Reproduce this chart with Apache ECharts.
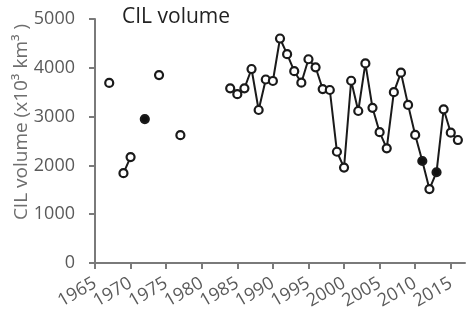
<!DOCTYPE html>
<html>
<head>
<meta charset="utf-8">
<script src="https://cdn.jsdelivr.net/npm/echarts@6/dist/echarts.min.js"></script>
<style>
  html, body { margin: 0; padding: 0; background: #fff; }
  #chart { width: 466px; height: 320px; }
</style>
</head>
<body>
<div id="chart"></div>
<script>
// Survey years and CIL volume (x10^3 km^3); null marks a year with no survey
const years = [
  1967, 1968, 1969, 1970, 1971, 1972, 1973, 1974, 1975, 1976, 1977,
  1978, 1979, 1980, 1981, 1982, 1983, 1984, 1985, 1986, 1987, 1988,
  1989, 1990, 1991, 1992, 1993, 1994, 1995, 1996, 1997, 1998, 1999,
  2000, 2001, 2002, 2003, 2004, 2005, 2006, 2007, 2008, 2009, 2010,
  2011, 2012, 2013, 2014, 2015, 2016
];
const volumes = [
  3690, null, 1840, 2170, null, 2950, null, 3850, null, null, 2620,
  null, null, null, null, null, null, 3580, 3460, 3580, 3975, 3135,
  3760, 3730, 4600, 4280, 3930, 3695, 4175, 4010, 3565, 3545, 2280,
  1955, 3735, 3115, 4090, 3180, 2680, 2350, 3500, 3900, 3240, 2625,
  2090, 1515, 1860, 3150, 2670, 2520
];
// Years drawn with a filled marker
const filledYears = [1972, 2011, 2013];
// Axis tick labels
const xTicks = [1965, 1970, 1975, 1980, 1985, 1990, 1995, 2000, 2005, 2010, 2015];
const yTicks = [0, 1000, 2000, 3000, 4000, 5000];

const FONT = '"Open Sans", sans-serif';
const AXIS_COLOR = '#7a7a7a';
const LABEL_COLOR = '#5a5a5a';

// Rotated year labels sit close together, so they are split over two
// stacked axes (alternate ticks each) to keep every one of them visible.
const xTicksA = xTicks.filter((_, i) => i % 2 === 0);
const xTicksB = xTicks.filter((_, i) => i % 2 === 1);

const seriesData = years.map((y, i) => {
  const v = volumes[i];
  if (v === null) return [y, null];
  if (filledYears.includes(y)) {
    return { value: [y, v], itemStyle: { color: '#111' } };
  }
  return [y, v];
});

const xLabel = values => ({
  customValues: values,
  showMinLabel: true,
  showMaxLabel: true,
  hideOverlap: false,
  rotate: 30,
  margin: 19,
  color: LABEL_COLOR,
  fontFamily: FONT,
  fontSize: 18,
  formatter: v => String(v)
});

const chart = echarts.init(document.getElementById('chart'), null, { renderer: 'canvas' });
chart.setOption({
  animation: false,
  backgroundColor: '#fff',
  grid: { left: 95, right: 1, top: 19, bottom: 57, containLabel: false },
  xAxis: [
    {
      type: 'value',
      position: 'bottom',
      min: 1965,
      max: 2017,
      interval: 5,
      axisLine: { show: true, onZero: false, lineStyle: { color: AXIS_COLOR, width: 2 } },
      axisTick: { show: true, length: 6, customValues: xTicks, lineStyle: { color: AXIS_COLOR, width: 2 } },
      axisLabel: xLabel(xTicksA),
      splitLine: { show: false }
    },
    {
      type: 'value',
      position: 'bottom',
      offset: 0,
      min: 1965,
      max: 2017,
      interval: 5,
      axisLine: { show: false, onZero: false },
      axisTick: { show: false },
      axisLabel: xLabel(xTicksB),
      splitLine: { show: false }
    }
  ],
  yAxis: {
    type: 'value',
    min: yTicks[0],
    max: yTicks[yTicks.length - 1],
    interval: 1000,
    axisLine: { show: true, lineStyle: { color: AXIS_COLOR, width: 2 } },
    axisTick: { show: true, length: 6, lineStyle: { color: AXIS_COLOR, width: 2 } },
    axisLabel: {
      showMinLabel: true,
      showMaxLabel: true,
      margin: 20,
      color: LABEL_COLOR,
      fontFamily: FONT,
      fontSize: 18,
      formatter: v => String(v)
    },
    splitLine: { show: false }
  },
  graphic: [
    {
      type: 'text',
      left: 122,
      top: 7,
      style: {
        text: 'CIL volume',
        fill: '#222',
        font: '21px ' + FONT
      }
    },
    {
      type: 'text',
      x: 22,
      y: 122,
      rotation: Math.PI / 2,
      style: {
        text: 'CIL volume (x10³ km³ )',
        fill: '#6e6e6e',
        font: '19px ' + FONT,
        textAlign: 'center',
        textVerticalAlign: 'middle'
      }
    }
  ],
  series: [
    {
      type: 'line',
      xAxisIndex: 0,
      data: seriesData,
      connectNulls: false,
      symbol: 'circle',
      symbolSize: 8,
      showAllSymbol: true,
      lineStyle: { color: '#1a1a1a', width: 2 },
      itemStyle: { color: '#fff', borderColor: '#1a1a1a', borderWidth: 2.2 },
      z: 3
    }
  ]
});
</script>
</body>
</html>
